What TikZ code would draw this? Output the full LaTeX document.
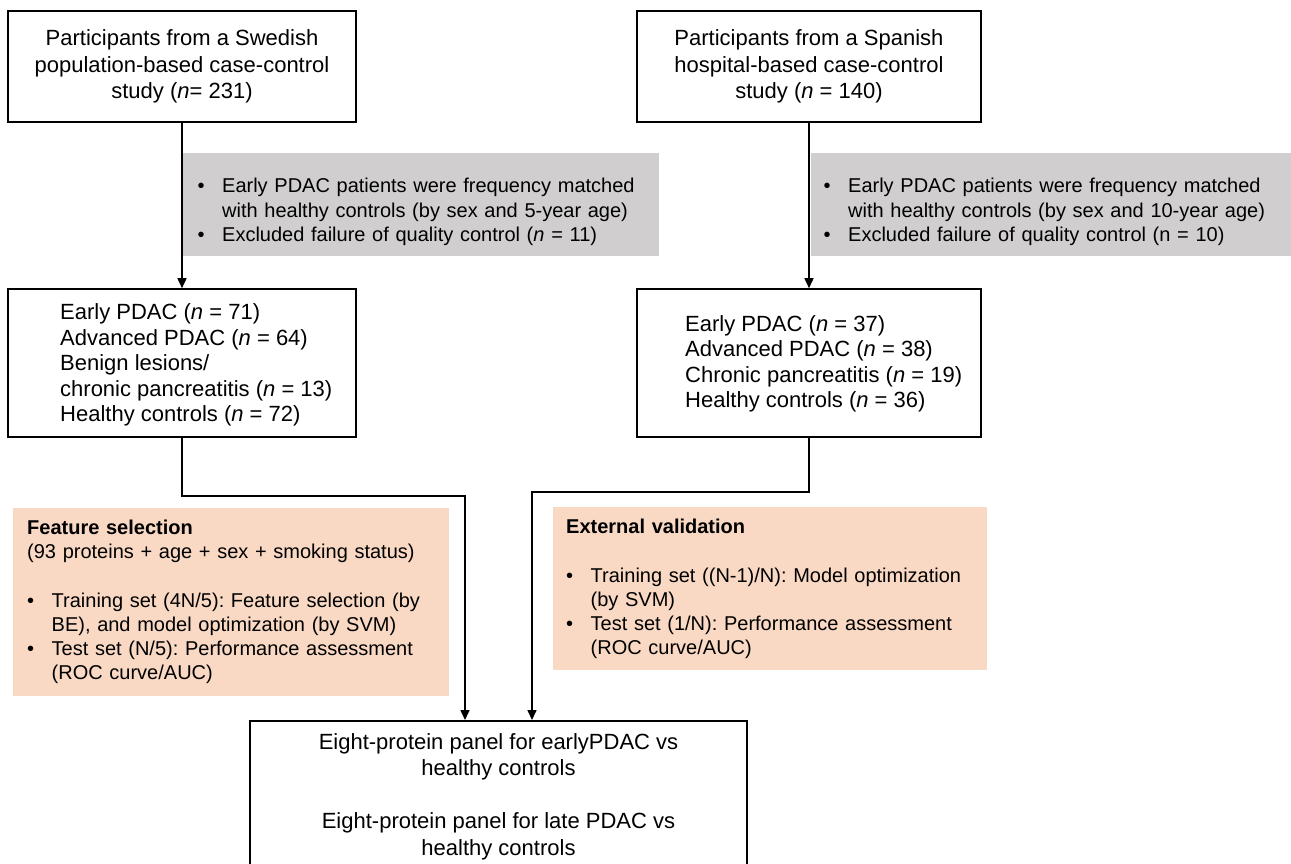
\documentclass[tikz,border=0pt]{standalone}
\usepackage{fontspec}
\setmainfont{Liberation Sans}
\usetikzlibrary{arrows.meta,calc}
\definecolor{critgray}{RGB}{208,206,206}
\definecolor{peach}{RGB}{249,217,196}
\frenchspacing
\newcommand{\bitem}[1]{\par\hangindent=24.5pt\hangafter=1\noindent\makebox[24.5pt][l]{\textbullet}#1\par}
\tikzset{
    studybox/.style={draw,line width=1.6pt,minimum width=348pt,minimum height=111pt,
        align=center,inner sep=0pt,font=\fontsize{22}{26.5}\selectfont},
    groupbox/.style={draw,line width=1.6pt,minimum width=348pt,minimum height=148pt,inner sep=0pt},
    grouptext/.style={anchor=west,align=left,inner sep=0pt,font=\fontsize{22}{25.5}\selectfont},
    paneltext/.style={anchor=north,align=center,inner sep=0pt,font=\fontsize{22}{26.5}\selectfont},
    critbox/.style={fill=critgray,draw=none,minimum height=103pt,inner sep=0pt},
    stepbox/.style={fill=peach,draw=none,inner sep=0pt},
    notetext/.style={anchor=west,text width=#1,align=left,inner sep=0pt,
        font=\fontsize{20}{24.2}\selectfont},
    flowarrow/.style={-{Triangle[length=10pt,width=9pt]},line width=1.6pt}
}

\begin{document}
\begin{tikzpicture}[x=1pt,y=-1pt]
    \useasboundingbox (0,0) rectangle (1291,864);
    \clip (0,0) rectangle (1291,864);
    % Shaded notes
    \node[critbox,minimum width=477pt] (sweCrit) at (420.5,204.5) {};
    \node[critbox,minimum width=480pt] (spaCrit) at (1051,204.5) {};
    \node[stepbox,minimum width=435.5pt,minimum height=188pt] (featSel) at (230.75,602) {};
    \node[stepbox,minimum width=434pt,minimum height=163pt] (extVal) at (770,588.5) {};
    \node[notetext=460pt] (sweCritText) at (197.5,207) {%
        \bitem{Early PDAC patients were frequency matched\newline with healthy controls (by sex and 5-year age)}%
        \bitem{Excluded failure of quality control (\textit{n} = 11)}};
    \node[notetext=460pt] (spaCritText) at (823.5,207) {%
        \bitem{Early PDAC patients were frequency matched\newline with healthy controls (by sex and 10-year age)}%
        \bitem{Excluded failure of quality control (n = 10)}};
    \node[notetext=420pt] (featText) at (27,602) {%
        \textbf{Feature selection}\newline (93 proteins + age + sex + smoking status)\par\mbox{}%
        \bitem{Training set (4N/5): Feature selection (by\newline BE), and model optimization (by SVM)}%
        \bitem{Test set (N/5): Performance assessment\newline (ROC curve/AUC)}};
    \node[notetext=420pt] (extText) at (566,589) {%
        \textbf{External validation}\par\mbox{}%
        \bitem{Training set ((N-1)/N): Model optimization\newline (by SVM)}%
        \bitem{Test set (1/N): Performance assessment\newline (ROC curve/AUC)}};
    % Study boxes
    \node[studybox] (swe) at (182,66.5) {Participants from a Swedish\\population-based case-control\\study (\textit{n}= 231)};
    \node[studybox,minimum width=344pt] (spa) at (809,66.5) {Participants from a Spanish\\hospital-based case-control\\study (\textit{n} = 140)};
    % Group boxes
    \node[groupbox] (sweGroups) at (182,363) {};
    \node[grouptext] (sweGroupsText) at (60,365) {Early PDAC (\textit{n} = 71)\\Advanced PDAC (\textit{n} = 64)\\Benign lesions/\\chronic pancreatitis (\textit{n} = 13)\\Healthy controls (\textit{n} = 72)};
    \node[groupbox,minimum width=344pt] (spaGroups) at (809,363) {};
    \node[grouptext] (spaGroupsText) at (685,364) {Early PDAC (\textit{n} = 37)\\Advanced PDAC (\textit{n} = 38)\\Chronic pancreatitis (\textit{n} = 19)\\Healthy controls (\textit{n} = 36)};
    % Final panel
    \node[groupbox,minimum width=497pt,minimum height=200pt,anchor=north] (panel) at (498.5,720) {};
    \node[paneltext] (panelText) at (498.5,733) {Eight-protein panel for earlyPDAC vs\\healthy controls\\[26.5pt]Eight-protein panel for late PDAC vs\\healthy controls};
    % Connectors
    \coordinate (sweJoin) at (465,496);
    \coordinate (spaJoin) at (532,492);
    \draw[flowarrow] (swe) -- (sweGroups);
    \draw[flowarrow] (spa) -- (spaGroups);
    \draw[flowarrow] (sweGroups.south) |- (sweJoin) -- (sweJoin |- panel.north);
    \draw[flowarrow] (spaGroups.south) |- (spaJoin) -- (spaJoin |- panel.north);
\end{tikzpicture}
\end{document}
